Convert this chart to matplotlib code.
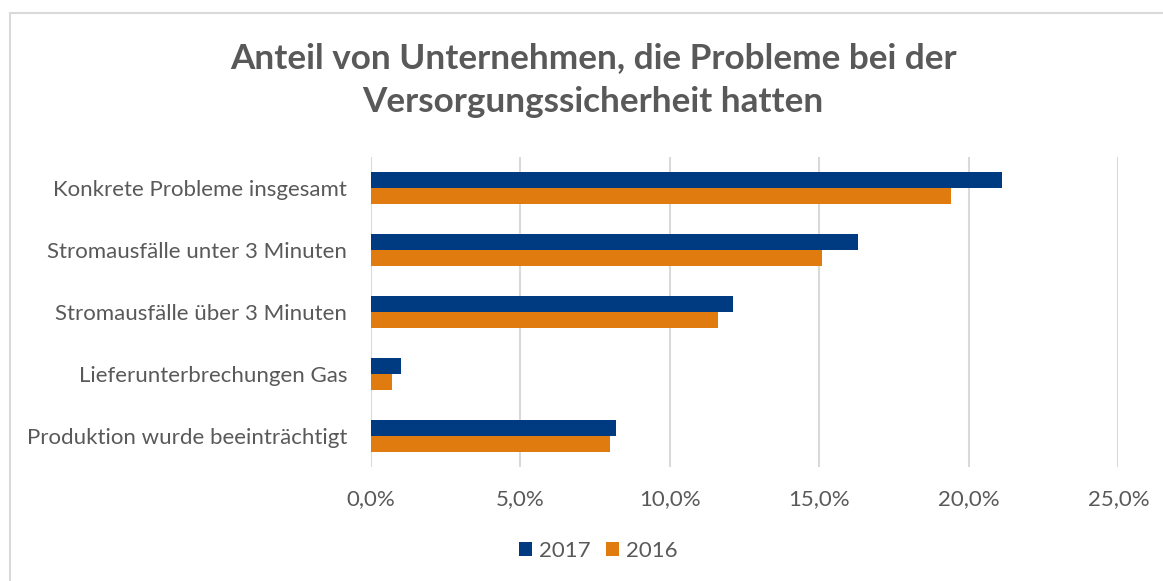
import numpy as np
import matplotlib
matplotlib.use('Agg')
import matplotlib.pyplot as plt
from matplotlib.patches import Rectangle
from matplotlib.ticker import FuncFormatter

# Daten
kategorien = ['Konkrete Probleme insgesamt', 'Stromausfälle unter 3 Minuten',
              'Stromausfälle über 3 Minuten', 'Lieferunterbrechungen Gas',
              'Produktion wurde beeinträchtigt']
werte_2017 = [21.1, 16.3, 12.1, 1.0, 8.2]
werte_2016 = [19.4, 15.1, 11.6, 0.7, 8.0]
x_ticks = [0, 5, 10, 15, 20, 25]

blau = '#003A80'
orange = '#E07B10'
grau_text = '#595959'
grau_linie = '#D9D9D9'

plt.rcParams['font.family'] = ['Lato', 'DejaVu Sans']

fig = plt.figure(figsize=(11.63, 5.81), dpi=100)
ax = fig.add_axes([0.3188, 0.1967, 0.6428, 0.5331])

# Rahmen um das Diagramm
fig.patches.append(Rectangle((10 / 1163, -0.1), 1.2, (581 - 13) / 581 + 0.1,
                             transform=fig.transFigure, fill=False,
                             edgecolor=grau_linie, linewidth=1.5))

y = np.arange(len(kategorien))
h = 0.258
ax.barh(y - h / 2, werte_2017, height=h, color=blau, label='2017')
ax.barh(y + h / 2, werte_2016, height=h, color=orange, label='2016')

ax.set_ylim(len(kategorien) - 0.5, -0.5)
ax.set_xlim(0, 25)
ax.set_xticks(x_ticks)
ax.xaxis.set_major_formatter(FuncFormatter(lambda v, p: f'{v:.1f}%'.replace('.', ',')))
ax.set_yticks(y)
ax.set_yticklabels(kategorien)

ax.grid(axis='x', color=grau_linie, linewidth=1.5)
ax.set_axisbelow(True)
for s in ['top', 'right', 'bottom', 'left']:
    ax.spines[s].set_visible(False)
ax.tick_params(axis='both', length=0, labelsize=16, colors=grau_text)
ax.tick_params(axis='y', pad=17)
ax.tick_params(axis='x', pad=16)

fig.text(593 / 1163, 1 - 80 / 581, 'Anteil von Unternehmen, die Probleme bei der\nVersorgungssicherheit hatten',
         ha='center', va='center', fontsize=25.3, fontweight='bold', color=grau_text,
         linespacing=1.45)

leg = fig.legend(loc='center', bbox_to_anchor=(598 / 1163, 1 - 551 / 581), ncol=2,
                 frameon=False, fontsize=16, handlelength=0.6, handleheight=0.6,
                 handletextpad=0.3, columnspacing=0.7)
for t in leg.get_texts():
    t.set_color(grau_text)

fig.savefig('out.png', dpi=100)
